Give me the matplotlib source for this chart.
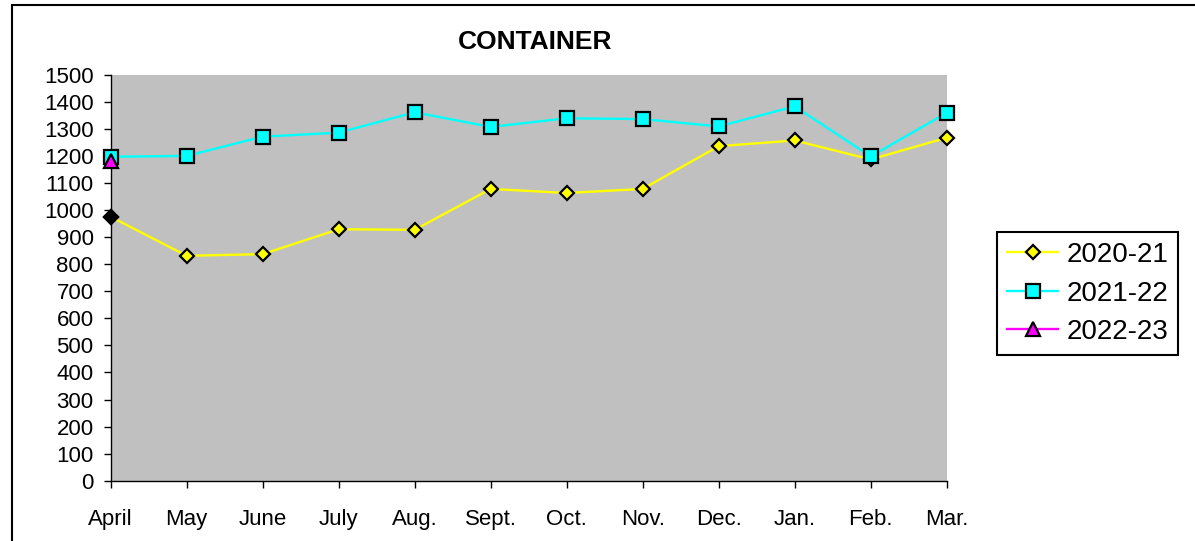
import matplotlib
matplotlib.use("Agg")
import matplotlib.pyplot as plt
from matplotlib.patches import Rectangle

months = ["April", "May", "June", "July", "Aug.", "Sept.", "Oct.", "Nov.", "Dec.", "Jan.", "Feb.", "Mar."]
s2020_21 = [975, 831, 837, 929, 927, 1078, 1063, 1078, 1236, 1257, 1187, 1267]
s2021_22 = [1197, 1200, 1271, 1286, 1361, 1307, 1339, 1336, 1309, 1383, 1198, 1359]
s2022_23 = [1180]
yticks = list(range(0, 1501, 100))

plt.rcParams['font.family'] = ['Liberation Sans', 'DejaVu Sans']

W, H = 1195, 541
fig = plt.figure(figsize=(W / 100, H / 100), dpi=100)

# outer frame
fig.patches.append(Rectangle((12 / W, -0.1), 1.2, 1 - 5 / H + 0.1, transform=fig.transFigure,
                             fill=False, edgecolor='black', linewidth=1.5))

left, right, top, bottom = 110.7 / W, 946.7 / W, 1 - 74.7 / H, 1 - 480.7 / H
ax = fig.add_axes([left, bottom, right - left, top - bottom])
ax.set_facecolor('#C0C0C0')

x = list(range(len(months)))
ax.plot(x, s2020_21, color='#FFFF00', lw=1.7, marker='D', ms=7.5, mfc='#FFFF00',
        mec='black', mew=1.6, label='2020-21', zorder=3, clip_on=False)
ax.plot(x[0], s2020_21[0], linestyle='none', marker='D', ms=7.5, mfc='black',
        mec='black', mew=1.6, zorder=3.5, clip_on=False)
ax.plot(x, s2021_22, color='#00FFFF', lw=1.7, marker='s', ms=10, mfc='#00FFFF',
        mec='black', mew=1.6, label='2021-22', zorder=4, clip_on=False)
ax.plot(x[:len(s2022_23)], s2022_23, color='#FF00FF', lw=1.7, marker='^', ms=9.5,
        mfc='#FF00FF', mec='black', mew=1.6, label='2022-23', zorder=5, clip_on=False)

ax.set_xlim(0, len(months) - 1)
ax.set_ylim(0, 1500)
ax.set_yticks(yticks)
ax.set_xticks(x)
ax.set_xticklabels(months)
for s in ['top', 'right']:
    ax.spines[s].set_visible(False)
for s in ['left', 'bottom']:
    ax.spines[s].set_color('black')
    ax.spines[s].set_linewidth(1.0)
ax.tick_params(axis='y', direction='out', length=5.3, width=1.0, pad=7, labelsize=16)
ax.tick_params(axis='x', direction='out', length=5, width=1.0, pad=15.5, labelsize=16)

fig.text(535.5 / W, 1 - 49.3 / H, 'CONTAINER', ha='center', va='baseline',
         fontsize=19, fontweight='bold')

leg = fig.legend(loc='upper left', bbox_to_anchor=(997.3 / W, 1 - 232.3 / H), fontsize=20,
                 frameon=True, fancybox=False, edgecolor='black', framealpha=1,
                 borderpad=0.35, labelspacing=0.45, handlelength=1.85, handletextpad=0.3,
                 borderaxespad=0)
leg.get_frame().set_linewidth(1.5)

fig.savefig('out.png', dpi=100)
